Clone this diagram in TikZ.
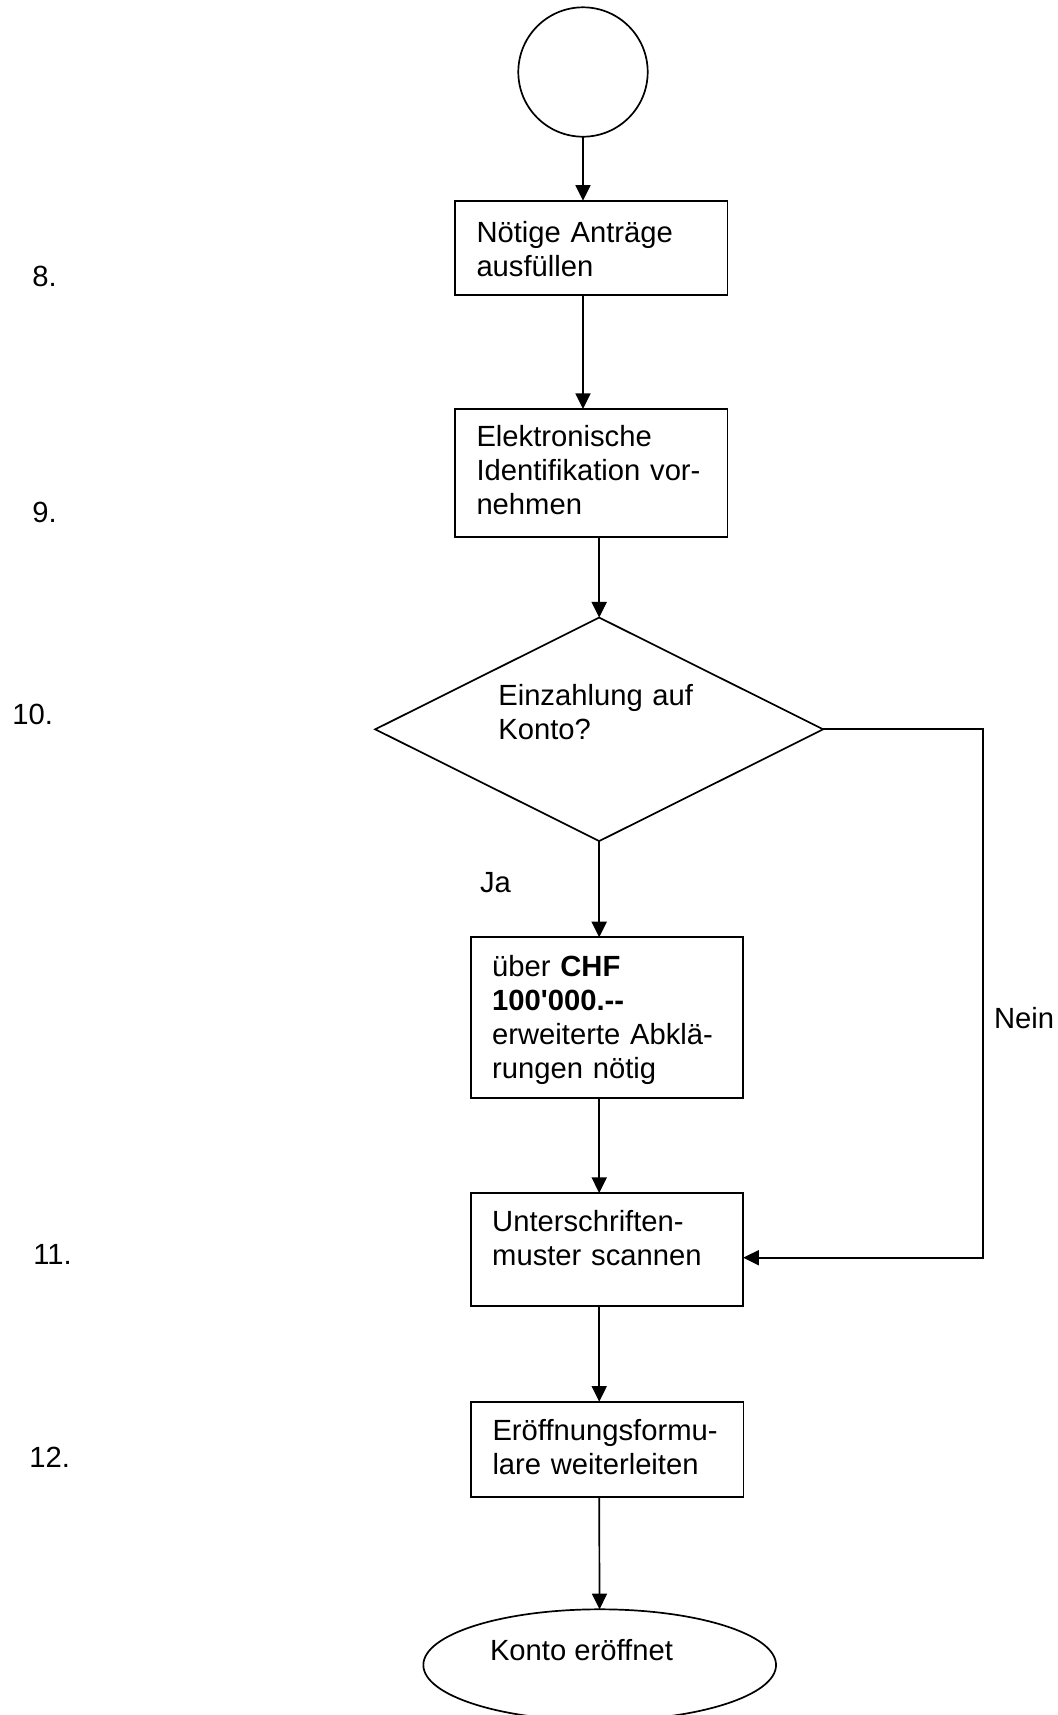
\documentclass[tikz,border=0pt]{standalone}
\usepackage{fontspec}
\setmainfont{Liberation Sans}[Ligatures=TeXOff]
\usetikzlibrary{shapes.geometric,arrows.meta}

\begin{document}
\begin{tikzpicture}[x=0.5pt,y=-0.5pt,line width=0.85pt,
    font=\fontsize{14.6}{17}\selectfont,
    >={Triangle[length=7.8pt,width=7.5pt]},
    txt/.style={anchor=base west,inner sep=0pt,outer sep=0pt},
    schritt/.style={draw,rectangle,anchor=base west,inner xsep=10.75pt,inner ysep=0pt,
      outer sep=0pt,text width=114.75pt,align=left},
    frage/.style={draw,diamond,minimum width=224pt,minimum height=111.75pt,inner sep=0pt,outer sep=0pt},
    ziel/.style={draw,ellipse,minimum width=176.35pt,minimum height=55.7pt,inner sep=0pt,outer sep=0pt}]
  \useasboundingbox (0,0) rectangle (1058,1715);

  % Ablauf
  \node [draw,circle,minimum size=64.7pt,inner sep=0pt,outer sep=0pt] (start) at (583,72) {};
  \node [schritt,text height=20.8pt,text depth=26.2pt] (ant) at (455,242.3) {Nötige Anträge\\ausfüllen};
  \node [schritt,text height=18.85pt,text depth=45.3pt] (ident) at (455,446.7) {Elektronische\\Identifikation vor-\\nehmen};
  \node [frage] (dec) at (599.2,729.3) {};
  \node [txt,text width=110pt,align=left] (dectxt) at (498.3,705) {Einzahlung auf\\Konto?};
  \node [schritt,text height=19.35pt,text depth=60.85pt] (ueber) at (470.7,976)
    {über \textbf{CHF}\\\textbf{100'000.--}\\erweiterte Abklä-\\rungen nötig};
  \node [schritt,text height=19.35pt,text depth=37pt] (unter) at (470.7,1231.7) {Unterschriften-\\muster scannen};
  \node [schritt,text height=19.5pt,text depth=28.3pt] (eroeff) at (471,1440.7) {Eröffnungsformu-\\lare weiterleiten};
  \node [ziel] (ende) at (599.7,1665) {};
  \node [txt] (endetxt) at (490,1660) {Konto eröffnet};

  % Nummern
  \node [txt] (n8) at (32.3,286.7) {8.};
  \node [txt] (n9) at (32.3,522.7) {9.};
  \node [txt] (n10) at (12.3,724.3) {10.};
  \node [txt] (n11) at (33.3,1264) {11.};
  \node [txt] (n12) at (29.3,1467) {12.};

  \node [txt] (ja) at (480,892.7) {Ja};
  \node [txt] (nein) at (994,1028) {Nein};

  % Pfeile
  \draw [->] (start) -- (ant.north -| start);
  \draw [->] (ant.south -| start) -- (ident.north -| start);
  \draw [->] (ident.south -| dec) -- (dec);
  \draw [->] (dec) -- (ueber.north -| dec);
  \draw [->] (ueber.south -| dec) -- (unter.north -| dec);
  \draw [->] (unter.south -| dec) -- (eroeff.north -| dec);
  \draw [->] (eroeff.south -| dec) -- (ende);
  \coordinate (knick) at (983,1257.7);
  \draw [->] (dec.east) -| (knick) -- (knick -| unter.east);
\end{tikzpicture}
\end{document}
